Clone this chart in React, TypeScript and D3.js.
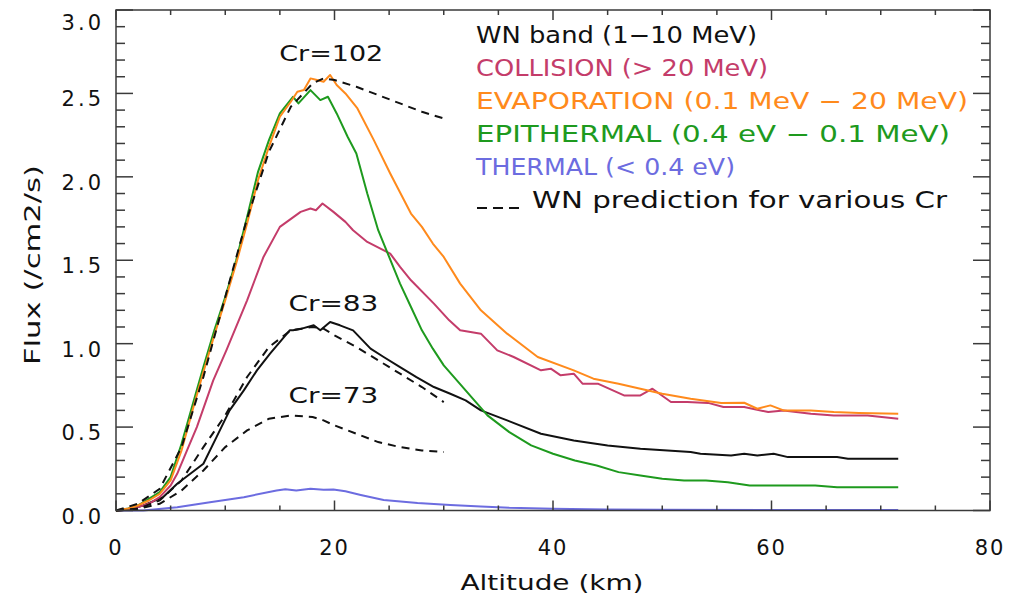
import React from "react";
import * as d3 from "d3";

const W = 1011;
const H = 601;
const PLOT = { left: 116, right: 990, top: 10, bottom: 510.5 };

// Axis ticks
const xMajorTicks = [0, 20, 40, 60, 80];
const xTickLabels = ["0", "20", "40", "60", "80"];
const yMajorTicks = [0, 0.5, 1.0, 1.5, 2.0, 2.5, 3.0];
const yTickLabels = ["0.0", "0.5", "1.0", "1.5", "2.0", "2.5", "3.0"];

// WN band (1-10 MeV)
const wnAlt = [0, 1, 2.5, 4.3, 5.6, 6.8, 8, 9.2, 10.4, 11.7, 12.9, 14.1, 15.9, 16.2, 17, 18.1, 18.7, 19.6, 20.5, 21.7, 23.3, 24.5, 26, 27.5, 29.1, 30.6, 32, 33.4, 35.8, 38.9, 41.9, 45, 48, 52.6, 53.5, 56.3, 57.5, 58.7, 60.2, 61.5, 66, 67, 71.6];
const wnFlux = [0, 0.005, 0.03, 0.08, 0.16, 0.22, 0.28, 0.44, 0.6, 0.72, 0.84, 0.94, 1.08, 1.08, 1.09, 1.11, 1.08, 1.13, 1.11, 1.08, 0.97, 0.92, 0.86, 0.8, 0.74, 0.7, 0.66, 0.6, 0.54, 0.46, 0.42, 0.39, 0.37, 0.35, 0.34, 0.33, 0.34, 0.33, 0.34, 0.32, 0.32, 0.31, 0.31];

// COLLISION (> 20 MeV)
const colAlt = [0, 1, 2, 3, 4, 5, 5.6, 6.5, 7.4, 8.9, 10.1, 12, 13.5, 15, 16.9, 17.8, 18.3, 18.9, 19.9, 21, 21.7, 23, 25.1, 26, 27, 29.1, 30.5, 31.5, 33.4, 34.9, 36.4, 38.9, 39.8, 40.7, 41.9, 42.7, 44.1, 46.5, 48, 49.1, 50.8, 52.3, 54.2, 55.6, 57.5, 59.7, 61.1, 63.6, 65.7, 68.8, 71.6];
const colFlux = [0, 0.005, 0.02, 0.04, 0.08, 0.15, 0.22, 0.36, 0.5, 0.78, 0.96, 1.26, 1.52, 1.7, 1.79, 1.81, 1.8, 1.84, 1.79, 1.73, 1.68, 1.61, 1.54, 1.46, 1.38, 1.24, 1.14, 1.08, 1.06, 0.96, 0.92, 0.84, 0.85, 0.81, 0.82, 0.76, 0.76, 0.69, 0.69, 0.73, 0.65, 0.65, 0.645, 0.62, 0.62, 0.59, 0.6, 0.58, 0.57, 0.57, 0.55];

// EVAPORATION (0.1 MeV - 20 MeV)
const evaAlt = [0, 1, 2, 3, 4, 5, 6, 7, 8, 9, 10, 11, 12, 13, 14, 15, 16, 16.6, 17.2, 17.8, 18.4, 19, 19.6, 20.2, 21, 22.1, 23.6, 25.1, 27, 28, 29, 30, 31.5, 33.4, 35.8, 38.6, 41.9, 43.7, 46, 48, 50, 52.6, 55.4, 57.5, 58.7, 59.9, 61.1, 63.6, 65.7, 68, 71.6];
const evaFlux = [0, 0.01, 0.03, 0.06, 0.1, 0.18, 0.36, 0.6, 0.83, 1.05, 1.26, 1.48, 1.72, 1.98, 2.18, 2.36, 2.45, 2.51, 2.52, 2.59, 2.58, 2.57, 2.61, 2.55, 2.5, 2.41, 2.22, 2.02, 1.78, 1.7, 1.6, 1.52, 1.36, 1.2, 1.06, 0.92, 0.84, 0.79, 0.76, 0.73, 0.7, 0.67, 0.645, 0.646, 0.61, 0.63, 0.6, 0.6, 0.59, 0.585, 0.58];

// EPITHERMAL (0.4 eV - 0.1 MeV)
const epiAlt = [0, 1, 2, 3, 4, 5, 6, 7, 8, 9, 10, 11, 12, 13, 14, 15, 16.2, 16.7, 17.8, 18.7, 19.4, 20.2, 21.2, 22, 23, 24, 25, 26, 27, 28, 29, 30, 32, 34, 36, 38, 40, 42, 44, 46, 48, 50, 52, 54, 56, 58, 60, 62, 64, 66, 68, 71.6];
const epiFlux = [0, 0.01, 0.03, 0.07, 0.11, 0.2, 0.4, 0.63, 0.86, 1.08, 1.28, 1.5, 1.76, 2.03, 2.22, 2.38, 2.48, 2.44, 2.52, 2.46, 2.48, 2.38, 2.24, 2.14, 1.9, 1.68, 1.52, 1.36, 1.22, 1.08, 0.97, 0.87, 0.72, 0.57, 0.47, 0.39, 0.34, 0.3, 0.27, 0.23, 0.21, 0.19, 0.18, 0.18, 0.17, 0.15, 0.15, 0.15, 0.15, 0.14, 0.14, 0.14];

// THERMAL (< 0.4 eV)
const thAlt = [0, 2.5, 5.6, 8.6, 11.7, 14.7, 15.5, 16.5, 17.8, 19, 19.9, 21, 22.4, 24.5, 27.6, 30.6, 33.4, 36, 40, 45, 50, 60, 71.6];
const thFlux = [0, 0, 0.02, 0.05, 0.08, 0.12, 0.128, 0.12, 0.13, 0.125, 0.126, 0.115, 0.093, 0.063, 0.045, 0.033, 0.024, 0.016, 0.01, 0.006, 0.004, 0.003, 0.003];

// WN predictions for various Cr (dashed)
const crAlt = [0, 2, 4, 6, 8, 10, 12, 14, 16, 18, 19, 20, 22, 24, 26, 28, 30];
const cr102Flux = [0, 0.04, 0.13, 0.38, 0.8, 1.28, 1.75, 2.15, 2.42, 2.56, 2.59, 2.58, 2.54, 2.49, 2.44, 2.39, 2.35];
const cr83Flux = [0, 0.01, 0.06, 0.18, 0.38, 0.57, 0.8, 0.98, 1.08, 1.1, 1.09, 1.05, 0.98, 0.9, 0.82, 0.74, 0.65];
const cr73Flux = [0, 0.01, 0.04, 0.12, 0.24, 0.38, 0.48, 0.55, 0.57, 0.56, 0.54, 0.51, 0.46, 0.41, 0.38, 0.36, 0.35];

const crLabels = ["Cr=102", "Cr=83", "Cr=73"];
const crLabelPos = [[19.7, 2.695], [19.9, 1.196], [19.9, 0.645]];

const legendLabels = [
  "WN band (1\u221210 MeV)",
  "COLLISION (> 20 MeV)",
  "EVAPORATION (0.1 MeV \u2212 20 MeV)",
  "EPITHERMAL (0.4 eV \u2212 0.1 MeV)",
  "THERMAL (< 0.4 eV)",
  "WN prediction for various Cr",
];
const legendColors = ["#111111", "#c43c6a", "#ff8a1c", "#1e9a1e", "#6c6ce0", "#111111"];
const legendWidths = [281, 292, 492, 474, 259, 415];

const COLORS = { wn: "#111111", col: "#c43c6a", eva: "#ff8a1c", epi: "#1e9a1e", th: "#6c6ce0" };

const FONT = "'DejaVu Sans', 'Liberation Sans', sans-serif";

export default function App() {
  const x = d3.scaleLinear().domain([0, 80]).range([PLOT.left, PLOT.right]);
  const y = d3.scaleLinear().domain([0, 3]).range([PLOT.bottom, PLOT.top]);

  const mk = (alt: number[], flux: number[]) =>
    d3.line<number>().x((_, i) => x(alt[i])).y((_, i) => y(flux[i]))(alt.map((a) => a)) || "";

  const xMinor = d3.range(0, 80.01, 5).filter((v) => !xMajorTicks.includes(v));
  const yMinor = d3.range(0, 30.01, 1).map((v) => v / 10).filter((v) => !yMajorTicks.some((m) => Math.abs(m - v) < 1e-6));

  const axisColor = "#3a3a3a";

  const solid = [
    { alt: thAlt, flux: thFlux, color: COLORS.th },
    { alt: wnAlt, flux: wnFlux, color: COLORS.wn },
    { alt: colAlt, flux: colFlux, color: COLORS.col },
    { alt: epiAlt, flux: epiFlux, color: COLORS.epi },
    { alt: evaAlt, flux: evaFlux, color: COLORS.eva },
  ];
  const dashed = [cr102Flux, cr83Flux, cr73Flux];

  return (
    <svg width={W} height={H} style={{ position: "absolute", left: 0, top: 0, background: "#fff" }}>
      <rect x={0} y={0} width={W} height={H} fill="#fff" />
      {/* data */}
      {solid.map((s, i) => (
        <path key={"s" + i} d={mk(s.alt, s.flux)} fill="none" stroke={s.color} strokeWidth={2} strokeLinejoin="round" />
      ))}
      {dashed.map((f, i) => (
        <path key={"d" + i} d={mk(crAlt, f)} fill="none" stroke="#111" strokeWidth={2} strokeDasharray="8,6" />
      ))}
      {/* frame */}
      <rect x={PLOT.left} y={PLOT.top} width={PLOT.right - PLOT.left} height={PLOT.bottom - PLOT.top} fill="none" stroke={axisColor} strokeWidth={1.5} />
      {/* x ticks */}
      {xMajorTicks.map((v) => (
        <g key={"xm" + v}>
          <line x1={x(v)} x2={x(v)} y1={PLOT.bottom} y2={PLOT.bottom - 10} stroke={axisColor} strokeWidth={1.5} />
          <line x1={x(v)} x2={x(v)} y1={PLOT.top} y2={PLOT.top + 10} stroke={axisColor} strokeWidth={1.5} />
        </g>
      ))}
      {xMinor.map((v) => (
        <g key={"xn" + v}>
          <line x1={x(v)} x2={x(v)} y1={PLOT.bottom} y2={PLOT.bottom - 5} stroke={axisColor} strokeWidth={1.5} />
          <line x1={x(v)} x2={x(v)} y1={PLOT.top} y2={PLOT.top + 5} stroke={axisColor} strokeWidth={1.5} />
        </g>
      ))}
      {/* y ticks */}
      {yMajorTicks.map((v) => (
        <g key={"ym" + v}>
          <line x1={PLOT.left} x2={PLOT.left + 17} y1={y(v)} y2={y(v)} stroke={axisColor} strokeWidth={1.5} />
          <line x1={PLOT.right} x2={PLOT.right - 17} y1={y(v)} y2={y(v)} stroke={axisColor} strokeWidth={1.5} />
        </g>
      ))}
      {yMinor.map((v) => (
        <g key={"yn" + v}>
          <line x1={PLOT.left} x2={PLOT.left + 9} y1={y(v)} y2={y(v)} stroke={axisColor} strokeWidth={1.5} />
          <line x1={PLOT.right} x2={PLOT.right - 9} y1={y(v)} y2={y(v)} stroke={axisColor} strokeWidth={1.5} />
        </g>
      ))}
      {/* tick labels */}
      {xMajorTicks.map((v, i) => (
        <text key={"xl" + v} x={x(v)} y={555} textAnchor="middle" fontFamily={FONT} fontSize={21} fill="#111" letterSpacing={2}>
          {xTickLabels[i]}
        </text>
      ))}
      {yMajorTicks.map((v, i) => (
        <text key={"yl" + v} x={104} y={Math.max(y(v) + 13, 30)} textAnchor="end" fontFamily={FONT} fontSize={21} fill="#111" letterSpacing={3}>
          {yTickLabels[i]}
        </text>
      ))}
      {/* axis titles */}
      <text x={552} y={590} textAnchor="middle" fontFamily={FONT} fontSize={22} fill="#111" textLength={183} lengthAdjust="spacingAndGlyphs">
        Altitude (km)
      </text>
      <text transform="translate(40,265) rotate(-90)" textAnchor="middle" fontFamily={FONT} fontSize={22} fill="#111" textLength={200} lengthAdjust="spacingAndGlyphs">
        Flux (/cm2/s)
      </text>
      {/* Cr labels */}
      {crLabels.map((t, i) => (
        <text key={"cr" + i} x={x(crLabelPos[i][0])} y={y(crLabelPos[i][1])} textAnchor="middle" fontFamily={FONT} fontSize={22} fill="#111" textLength={i === 0 ? 104 : 90} lengthAdjust="spacingAndGlyphs">
          {t}
        </text>
      ))}
      {/* legend */}
      {legendLabels.map((t, i) => {
        const by = 43 + i * 33;
        if (i === 5) {
          return (
            <g key={"lg" + i}>
              <line x1={477} x2={519} y1={by} y2={by} stroke="#111" strokeWidth={2} strokeDasharray="10,6" />
              <text x={532} y={by} fontFamily={FONT} fontSize={23} fill={legendColors[i]} textLength={legendWidths[i]} lengthAdjust="spacingAndGlyphs">
                {t}
              </text>
            </g>
          );
        }
        return (
          <text key={"lg" + i} x={476} y={by} fontFamily={FONT} fontSize={23} fill={legendColors[i]} textLength={legendWidths[i]} lengthAdjust="spacingAndGlyphs">
            {t}
          </text>
        );
      })}
    </svg>
  );
}
